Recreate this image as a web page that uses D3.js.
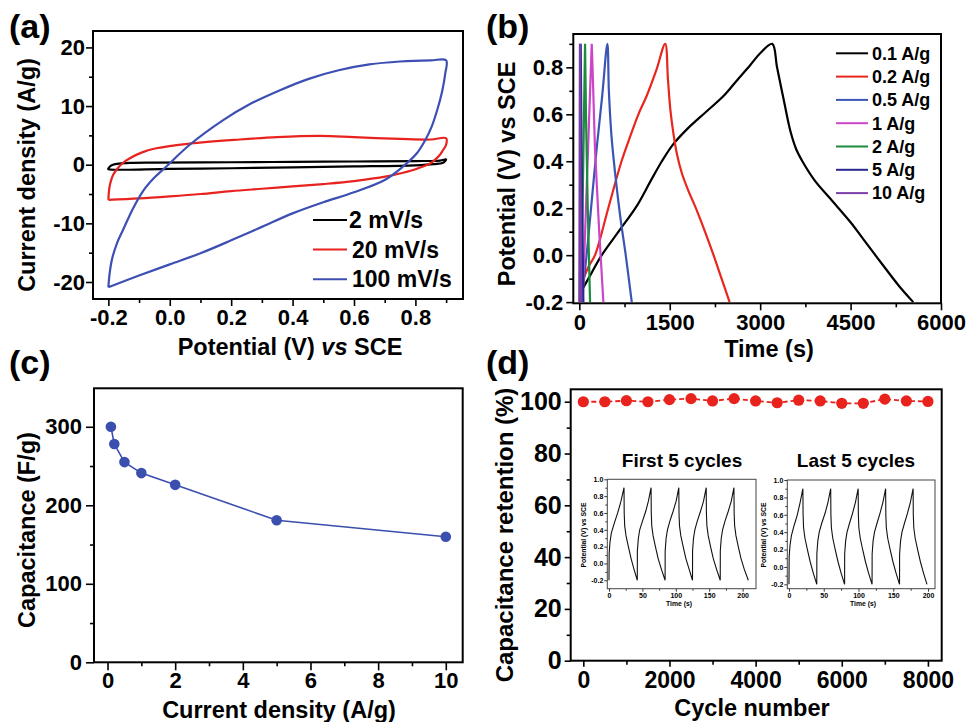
<!DOCTYPE html>
<html>
<head>
<meta charset="utf-8">
<script src="https://cdn.jsdelivr.net/npm/d3@7"></script>
<style>
body { margin: 0; background: #fff; }
svg text { font-family: "Liberation Sans", Arial, sans-serif; font-weight: bold; fill: #000; }
</style>
</head>
<body>
<svg id="fig" width="968" height="722"></svg>
<script>
// ---- (a) CV loops, [potential V, current density A/g]
const cv2 = [[-0.2,-0.65],[-0.195,-0.3],[-0.185,0.0],[-0.165,0.2],[-0.13,0.32],[-0.05,0.37],[0.2,0.42],[0.4,0.48],[0.6,0.55],[0.8,0.62],[0.88,0.7],[0.9,0.9],
  [0.89,0.35],[0.86,0.1],[0.8,-0.1],[0.6,-0.3],[0.4,-0.45],[0.2,-0.6],[0.0,-0.7],[-0.2,-0.75],[-0.2,-0.65]];
const cv20 = [[-0.2,-6.0],[-0.198,-4.5],[-0.194,-3.2],[-0.185,-1.8],[-0.174,-0.9],[-0.155,0.2],[-0.13,1.1],[-0.09,2.1],[-0.044,2.8],[0.065,3.6],[0.228,4.3],[0.35,4.7],[0.49,4.9],[0.6,4.7],[0.75,4.4],[0.85,4.3],[0.9,4.5],
  [0.9,3.4],[0.89,2.5],[0.88,1.7],[0.865,0.9],[0.848,0.2],[0.82,-0.4],[0.793,-0.9],[0.75,-1.5],[0.706,-2.0],[0.6,-2.8],[0.5,-3.3],[0.4,-3.7],[0.3,-4.1],[0.2,-4.5],[0.1,-5.0],[0.0,-5.4],[-0.1,-5.75],[-0.2,-6.0]];
const cv100 = [[-0.2,-20.9],[-0.196,-18.6],[-0.188,-16.1],[-0.172,-13.4],[-0.152,-11.1],[-0.12,-7.5],[-0.087,-4.5],[-0.05,-2.2],[-0.011,-0.3],[0.065,3.4],[0.174,7.6],[0.26,10.3],[0.359,12.7],[0.45,14.6],[0.55,16.1],[0.65,17.1],[0.75,17.6],[0.85,17.8],[0.9,17.8],
  [0.897,15.5],[0.887,12.5],[0.872,9.5],[0.853,6.5],[0.83,4.0],[0.804,1.9],[0.76,-0.3],[0.7,-2.6],[0.6,-4.7],[0.5,-6.4],[0.4,-8.3],[0.3,-10.6],[0.2,-12.9],[0.1,-15.1],[0.0,-17.0],[-0.1,-18.9],[-0.2,-20.9]];
const cvNames = ["2 mV/s", "20 mV/s", "100 mV/s"];
const cvColors = ["#000000", "#e8231f", "#3d4fb2"];

// ---- (b) charge/discharge, [time s, potential V]
const gcd01 = [[40,-0.15],[150,-0.1],[372,0.0],[650,0.1],[954,0.21],[1170,0.31],[1369,0.4],[1550,0.47],[1800,0.54],[2100,0.61],[2400,0.68],[2600,0.74],[2837,0.81],[3000,0.86],[3200,0.9],
  [3280,0.8],[3400,0.65],[3500,0.53],[3600,0.45],[3700,0.4],[3900,0.32],[4166,0.24],[4500,0.14],[4720,0.065],[5000,-0.03],[5300,-0.13],[5540,-0.2]];
const gcd02 = [[40,-0.12],[150,-0.05],[260,0.0],[480,0.2],[700,0.4],[850,0.51],[980,0.6],[1120,0.68],[1280,0.79],[1424,0.9],
  [1470,0.75],[1510,0.62],[1560,0.52],[1620,0.43],[1700,0.35],[1800,0.28],[1950,0.19],[2100,0.09],[2227,0.0],[2360,-0.1],[2493,-0.2]];
const gcd05 = [[30,-0.2],[100,-0.05],[180,0.16],[290,0.46],[380,0.68],[465,0.9],[490,0.7],[530,0.52],[565,0.42],[676,0.17],[770,0.0],[870,-0.2]];
const gcd1 = [[55,-0.2],[206,0.9],[225,0.75],[260,0.45],[330,0.1],[399,-0.2]];
const gcd2 = [[30,-0.2],[95,0.9],[110,0.6],[140,0.2],[178,-0.2]];
const gcd5 = [[10,-0.2],[23,0.9],[35,0.5],[67,-0.2]];
const gcd10 = [[0,-0.2],[10,0.9],[18,0.4],[30,-0.2]];
const gcdNames = ["0.1 A/g", "0.2 A/g", "0.5 A/g", "1 A/g", "2 A/g", "5 A/g", "10 A/g"];
const gcdColors = ["#000000", "#e8261e", "#3a55b4", "#cc44c8", "#1a8c3c", "#28278f", "#7b3fa8"];

// ---- (c) rate capability
const currents = [0.1, 0.2, 0.5, 1, 2, 5, 10];
const capacitance = [300, 278, 255, 241, 226, 181, 160];

// ---- (d) cycling
const cycles = [0,500,1000,1500,2000,2500,3000,3500,4000,4500,5000,5500,6000,6500,7000,7500,8000];
const retention = [100.0,100.0,100.4,100.0,100.8,101.2,100.3,101.2,100.3,99.6,100.6,100.3,99.4,99.4,101.0,100.3,100.1];

// insets, [time s, potential V]
const first5 = [[0,-0.2],[0.3,0.12],[1.5,0.25],[3.5,0.36],[8,0.48],[13,0.6],[18,0.74],[22.5,0.9],[22.8,0.6],[23.5,0.45],[25.5,0.33],[29,0.2],[33,0.06],[37.5,-0.07],[42.4,-0.2],
  [42.5,0.15],[44,0.3],[46,0.4],[50,0.5],[55,0.62],[59,0.74],[63,0.9],[63.3,0.6],[64,0.45],[66,0.33],[69.5,0.2],[73.5,0.06],[78.5,-0.07],[84,-0.2],
  [84.1,0.15],[85.5,0.3],[87.5,0.4],[91,0.5],[96,0.62],[100.5,0.74],[104.5,0.9],[104.8,0.6],[105.5,0.45],[107.5,0.33],[111,0.2],[115,0.06],[120,-0.07],[125,-0.2],
  [125.1,0.15],[126.5,0.3],[128.5,0.4],[132,0.5],[137,0.62],[141.5,0.74],[145.5,0.9],[145.8,0.6],[146.5,0.45],[148.5,0.33],[152,0.2],[156,0.06],[161,-0.07],[166.5,-0.2],
  [166.6,0.15],[168,0.3],[170,0.4],[173.5,0.5],[178.5,0.62],[183,0.74],[187,0.9],[187.3,0.6],[188,0.45],[190,0.33],[193.5,0.2],[197.5,0.06],[202.5,-0.07],[208.5,-0.2]];
const last5 = [[0,-0.2],[0.3,0.12],[1.5,0.25],[3.5,0.36],[7.5,0.48],[12,0.6],[16,0.74],[20,0.9],[20.3,0.6],[21,0.45],[23,0.33],[26.5,0.2],[30.5,0.06],[35,-0.07],[40,-0.2],
  [40.1,0.15],[41.5,0.3],[43.5,0.4],[47,0.5],[52,0.62],[56,0.74],[60,0.9],[60.3,0.6],[61,0.45],[63,0.33],[66.5,0.2],[70.5,0.06],[75,-0.07],[80,-0.2],
  [80.1,0.15],[81.5,0.3],[83.5,0.4],[87,0.5],[91.5,0.62],[95.5,0.74],[99.5,0.9],[99.8,0.6],[100.5,0.45],[102.5,0.33],[106,0.2],[110,0.06],[114.5,-0.07],[119.5,-0.2],
  [119.6,0.15],[121,0.3],[123,0.4],[126.5,0.5],[131,0.62],[135,0.74],[139,0.9],[139.3,0.6],[140,0.45],[142,0.33],[145.5,0.2],[149.5,0.06],[154,-0.07],[159,-0.2],
  [159.1,0.15],[160.5,0.3],[162.5,0.4],[166,0.5],[170.5,0.62],[174.5,0.74],[178.5,0.9],[178.8,0.6],[179.5,0.45],[181.5,0.33],[185,0.2],[189,0.06],[193.5,-0.07],[198.5,-0.2]];

const svg = d3.select("#fig");
const fmt1 = d => d.toFixed(1);
const fmt0 = d => String(d);
const smooth = d3.curveCatmullRom.alpha(0.5);

// draws a framed panel with outward major/minor ticks, returns the scales
function panel(o) {
  const x = d3.scaleLinear(o.xDomain, [o.l, o.r]);
  const y = d3.scaleLinear(o.yDomain, [o.b, o.t]);
  const g = svg.append("g");
  const lw = o.lw || 2;

  const styleAxis = (a, fs) => {
    a.select(".domain").remove();
    a.selectAll(".tick line").attr("stroke", "#000").attr("stroke-width", o.tw || 1.6);
    a.selectAll("text").style("font-size", fs + "px");
  };

  g.append("g").attr("transform", `translate(0,${o.b})`)
    .call(d3.axisBottom(x).tickValues(o.xMinor).tickSize(o.minor).tickFormat(""))
    .call(a => styleAxis(a, o.xfs));
  g.append("g").attr("transform", `translate(0,${o.b})`)
    .call(d3.axisBottom(x).tickValues(o.xTicks).tickSize(o.major).tickPadding(o.xpad).tickFormat(o.xFmt))
    .call(a => styleAxis(a, o.xfs));
  g.append("g").attr("transform", `translate(${o.l},0)`)
    .call(d3.axisLeft(y).tickValues(o.yMinor).tickSize(o.minor).tickFormat(""))
    .call(a => styleAxis(a, o.yfs));
  g.append("g").attr("transform", `translate(${o.l},0)`)
    .call(d3.axisLeft(y).tickValues(o.yTicks).tickSize(o.major).tickPadding(o.ypad).tickFormat(o.yFmt))
    .call(a => styleAxis(a, o.yfs));

  g.append("rect")
    .attr("x", o.l).attr("y", o.t)
    .attr("width", o.r - o.l).attr("height", o.b - o.t)
    .attr("fill", "none").attr("stroke", o.frameColor || "#000").attr("stroke-width", lw);
  return {x, y, g};
}

const lineOf = (sc, curve) => d3.line().x(d => sc.x(d[0])).y(d => sc.y(d[1])).curve(curve || smooth);

function label(txt, x, y, size) {
  svg.append("text").attr("x", x).attr("y", y).style("font-size", size + "px").text(txt);
}
function yTitle(txt, x, y, size) {
  return svg.append("text").attr("transform", `translate(${x},${y}) rotate(-90)`)
    .attr("text-anchor", "middle").attr("dy", "0.35em").style("font-size", size + "px").text(txt);
}
function xTitle(x, y, size) {
  return svg.append("text").attr("x", x).attr("y", y).attr("text-anchor", "middle").style("font-size", size + "px");
}

// ===== (a)
const pa = panel({l: 93, r: 463, t: 31, b: 299, xDomain: [-0.25, 0.955], yDomain: [-22.9, 22.8],
  xTicks: [-0.2, 0, 0.2, 0.4, 0.6, 0.8], xMinor: [-0.1, 0.1, 0.3, 0.5, 0.7, 0.9],
  yTicks: [-20, -10, 0, 10, 20], yMinor: [-15, -5, 5, 15],
  xFmt: fmt1, yFmt: fmt0, major: 7, minor: 4, xpad: 3, ypad: 1, xfs: 22, yfs: 22});
[cv2, cv20, cv100].forEach((s, i) => {
  pa.g.append("path").datum(s).attr("d", lineOf(pa))
    .attr("fill", "none").attr("stroke", cvColors[i]).attr("stroke-width", 2.2);
});
cvNames.forEach((n, i) => {
  const yy = 220 + i * 29.6;
  svg.append("line").attr("x1", 313).attr("x2", 347).attr("y1", yy).attr("y2", yy)
    .attr("stroke", cvColors[i]).attr("stroke-width", 2);
  svg.append("text").attr("x", 349 + (i ? 3 : 0)).attr("y", yy).attr("dy", "0.35em").style("font-size", "23px").text(n);
});
label("(a)", 9, 38, 34);
yTitle("Current density (A/g)", 27, 175, 23.5);
const ta = xTitle(290, 355, 23.5);
ta.append("tspan").text("Potential (V) ");
ta.append("tspan").style("font-style", "italic").text("vs");
ta.append("tspan").text(" SCE");

// ===== (b)
const pb = panel({l: 573.3, r: 941, t: 34, b: 303.3, xDomain: [-100, 6000], yDomain: [-0.205, 0.942],
  xTicks: [0, 1500, 3000, 4500, 6000], xMinor: [750, 2250, 3750, 5250],
  yTicks: [-0.2, 0, 0.2, 0.4, 0.6, 0.8], yMinor: [-0.1, 0.1, 0.3, 0.5, 0.7, 0.9],
  xFmt: fmt0, yFmt: fmt1, major: 7, minor: 4, xpad: 4, ypad: 3, xfs: 22, yfs: 22});
[gcd01, gcd02, gcd05, gcd1, gcd2, gcd5, gcd10].forEach((s, i) => {
  pb.g.append("path").datum(s).attr("d", lineOf(pb, i < 3 ? smooth : d3.curveLinear))
    .attr("fill", "none").attr("stroke", gcdColors[i]).attr("stroke-width", 2.2);
});
gcdNames.forEach((n, i) => {
  const yy = 53.3 + i * 23.3;
  svg.append("line").attr("x1", 836).attr("x2", 868).attr("y1", yy).attr("y2", yy)
    .attr("stroke", gcdColors[i]).attr("stroke-width", 2);
  svg.append("text").attr("x", 872).attr("y", yy).attr("dy", "0.35em").style("font-size", "18px").text(n);
});
label("(b)", 486, 38, 34);
yTitle("Potential (V) vs SCE", 507, 174, 23.5);
xTitle(769, 357, 23.5).text("Time (s)");

// ===== (c)
const pc = panel({l: 94, r: 462.7, t: 388.3, b: 662.3, xDomain: [-0.4, 10.5], yDomain: [0, 349],
  xTicks: [0, 2, 4, 6, 8, 10], xMinor: [1, 3, 5, 7, 9],
  yTicks: [0, 100, 200, 300], yMinor: [50, 150, 250],
  xFmt: fmt0, yFmt: fmt0, major: 8, minor: 4, xpad: 2, ypad: 4, xfs: 22, yfs: 22});
const rate = currents.map((c, i) => [c, capacitance[i]]);
pc.g.append("path").datum(rate).attr("d", lineOf(pc, d3.curveLinear))
  .attr("fill", "none").attr("stroke", "#3b4fae").attr("stroke-width", 1.6);
pc.g.selectAll("circle").data(rate).join("circle")
  .attr("cx", d => pc.x(d[0])).attr("cy", d => pc.y(d[1])).attr("r", 5.3).attr("fill", "#3b4fae");
label("(c)", 9, 374, 34);
yTitle("Capacitance (F/g)", 27, 530, 23.5);
xTitle(279, 718, 23.5).text("Current density (A/g)");

// ===== (d)
const pd = panel({l: 570.7, r: 941.7, t: 389.3, b: 660.7, xDomain: [-293, 8320], yDomain: [0, 104.8],
  xTicks: [0, 2000, 4000, 6000, 8000], xMinor: [1000, 3000, 5000, 7000],
  yTicks: [0, 20, 40, 60, 80, 100], yMinor: [10, 30, 50, 70, 90],
  xFmt: fmt0, yFmt: fmt0, major: 6, minor: 4, xpad: 5, ypad: 3, xfs: 23, yfs: 25});
const ret = cycles.map((c, i) => [c, retention[i]]);
pd.g.append("path").datum(ret).attr("d", lineOf(pd, d3.curveLinear))
  .attr("fill", "none").attr("stroke", "#e8231d").attr("stroke-width", 1.8).attr("stroke-dasharray", "5,3");
pd.g.selectAll("circle").data(ret).join("circle")
  .attr("cx", d => pd.x(d[0])).attr("cy", d => pd.y(d[1])).attr("r", 5.6).attr("fill", "#e8231d");
label("(d)", 486, 374, 34);
yTitle("Capacitance retention (%)", 505, 535, 24);
xTitle(752, 716, 23.5).text("Cycle number");

// insets
const insetTicks = [-0.2, 0, 0.2, 0.4, 0.6, 0.8, 1.0];
const insetMinor = [-0.1, 0.1, 0.3, 0.5, 0.7, 0.9];
const i1 = panel({l: 607.3, r: 756, t: 479.3, b: 588.7, xDomain: [-2.5, 220], yDomain: [-0.3, 1.0],
  xTicks: [0, 50, 100, 150, 200], xMinor: [25, 75, 125, 175], yTicks: insetTicks, yMinor: insetMinor,
  xFmt: fmt0, yFmt: fmt1, major: 3, minor: 2, xpad: 1, ypad: 1, xfs: 7, yfs: 7, lw: 1, tw: 0.8, frameColor: "#444"});
i1.g.append("path").datum(first5).attr("d", lineOf(i1, d3.curveLinear))
  .attr("fill", "none").attr("stroke", "#111").attr("stroke-width", 1.1);
const i2 = panel({l: 787.3, r: 935, t: 480, b: 588.7, xDomain: [-2.4, 210], yDomain: [-0.25, 1.0],
  xTicks: [0, 50, 100, 150, 200], xMinor: [25, 75, 125, 175], yTicks: insetTicks, yMinor: insetMinor,
  xFmt: fmt0, yFmt: fmt1, major: 3, minor: 2, xpad: 1, ypad: 1, xfs: 7, yfs: 7, lw: 1, tw: 0.8, frameColor: "#444"});
i2.g.append("path").datum(last5).attr("d", lineOf(i2, d3.curveLinear))
  .attr("fill", "none").attr("stroke", "#111").attr("stroke-width", 1.1);

xTitle(682, 467, 19).text("First 5 cycles");
xTitle(856, 467, 19).text("Last 5 cycles");
yTitle("Potential (V) vs SCE", 584, 535, 6.8);
yTitle("Potential (V) vs SCE", 764, 535, 6.8);
xTitle(679, 606, 6.8).text("Time (s)");
xTitle(863, 606, 6.8).text("Time (s)");
</script>
</body>
</html>
